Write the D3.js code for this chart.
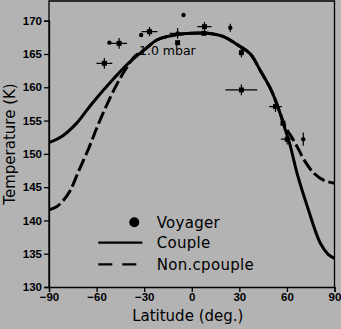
<!DOCTYPE html>
<html><head><meta charset="utf-8">
<script src="https://cdn.jsdelivr.net/npm/d3@7"></script>
<style>html,body{margin:0;padding:0;background:#b3b3b3;}svg{display:block;}</style>
</head><body>
<script>
// ---- data ----
const xTicks = [-90, -60, -30, 0, 30, 60, 90];
const yTicks = [130, 135, 140, 145, 150, 155, 160, 165, 170];

const coupleLat  = [-90, -82, -73, -66, -61, -50, -40, -29, -22, -11, 0, 10, 20, 30, 37, 43, 50, 55, 59, 62, 66.5, 73, 81, 86, 90];
const coupleTemp = [151.7, 152.6, 154.5, 156.6, 158.1, 161.1, 163.6, 165.8, 167.1, 167.85, 168.1, 168.1, 167.6, 166.2, 165.0, 162.6, 159.6, 156.6, 153.6, 151.3, 147.0, 142.0, 136.6, 134.9, 134.3];

const noncLat  = [-90, -85, -81, -76.6, -71.5, -65, -60, -55, -48, -42, -36, -29, -22, -11, 0, 10, 20, 30, 37, 43, 50, 55, 59, 62, 64.5, 67.5, 70.8, 77, 83.4, 90];
const noncTemp = [141.6, 142.1, 143.0, 144.5, 147.3, 150.8, 153.8, 156.6, 160.1, 162.6, 164.6, 165.8, 167.1, 167.85, 168.1, 168.1, 167.6, 166.2, 165.0, 162.6, 159.6, 156.6, 154.0, 152.9, 151.9, 150.6, 149.1, 147.1, 146.0, 145.6];

const obsLat   = [-55.1, -51.9, -45.8, -31.9, -26.6, -5.2, -8.9, -8.9, 8.0, 7.6, 24.3, 31.3, 31.3, 52.8, 57.5, 60.2, 70.3];
const obsTemp  = [163.6, 166.7, 166.6, 167.85, 168.35, 170.85, 168.1, 166.7, 169.1, 168.1, 168.95, 165.2, 159.6, 157.1, 154.6, 152.2, 152.2];
const obsLatErr  = [5, 0, 5, 0, 5, 0, 5, 0, 4.5, 0, 0, 0, 10, 4, 0, 4, 0];
const obsTempErr = [0.8, 0, 0.8, 0, 0.7, 0, 0.8, 0, 0.7, 0, 0.6, 0.7, 0.8, 0.8, 0, 0.8, 1.0];
const obsShape   = ["s", "d", "s", "d", "s", "d", "d", "s", "s", "s", "d", "s", "s", "s", "s", "s", "d"];

const legendLabels = ["Voyager", "Couple", "Non.cpouple"];

// ---- chart ----
const W = 341, H = 329;
const svg = d3.select("body").append("svg").attr("width", W).attr("height", H);
svg.append("rect").attr("width", W).attr("height", H).attr("fill", "#b3b3b3");

const x = d3.scaleLinear().domain([-90, 90]).range([49, 334.5]);
const y = d3.scaleLinear().domain([130, 170]).range([287, 20.7]);
const yTop = y.invert(1);

// frame
svg.append("path")
  .attr("d", `M${x(-90)},${y(130)}V${y(yTop)}H${x(90)}V${y(130)}`)
  .attr("fill", "none").attr("stroke", "#000").attr("stroke-width", 1.3);

const tickFont = "'Liberation Sans Narrow','Liberation Sans',sans-serif";
const textFont = "'DejaVu Sans',sans-serif";
const fmt = d => (d < 0 ? "\u2212" + Math.abs(d) : String(d));

const xAxis = svg.append("g").attr("transform", `translate(0,${y(130)})`)
  .call(d3.axisBottom(x).tickValues(xTicks).tickSize(5).tickPadding(1).tickFormat(fmt));
const yAxis = svg.append("g").attr("transform", `translate(${x(-90)},0)`)
  .call(d3.axisLeft(y).tickValues(yTicks).tickSize(5).tickPadding(2).tickFormat(fmt));
[xAxis, yAxis].forEach(g => {
  g.select(".domain").attr("stroke", "#000").attr("stroke-width", 1.3);
  g.selectAll(".tick line").attr("stroke", "#000").attr("stroke-width", 1.3);
  g.selectAll(".tick text").attr("fill", "#000").style("font-family", tickFont)
    .style("font-size", "11.5px").style("font-weight", "bold");
});

// curves
const line = d3.line().x(d => x(d[0])).y(d => y(d[1])).curve(d3.curveCatmullRom.alpha(0.5));
svg.append("clipPath").attr("id", "c").append("rect")
  .attr("x", x(-90)).attr("y", y(yTop)).attr("width", x(90) - x(-90)).attr("height", y(130) - y(yTop));
const plot = svg.append("g").attr("clip-path", "url(#c)");

plot.append("path").datum(noncLat.map((d, i) => [d, noncTemp[i]]))
  .attr("d", line).attr("fill", "none").attr("stroke", "#000").attr("stroke-width", 3)
  .attr("stroke-dasharray", "13,4");
plot.append("path").datum(coupleLat.map((d, i) => [d, coupleTemp[i]]))
  .attr("d", line).attr("fill", "none").attr("stroke", "#000").attr("stroke-width", 3);

// observations
const obs = obsLat.map((d, i) => ({lat: d, t: obsTemp[i], ex: obsLatErr[i], et: obsTempErr[i], s: obsShape[i]}));
const og = plot.append("g");
obs.forEach(o => {
  if (o.ex > 0) og.append("line").attr("x1", x(o.lat - o.ex)).attr("x2", x(o.lat + o.ex))
    .attr("y1", y(o.t)).attr("y2", y(o.t)).attr("stroke", "#000").attr("stroke-width", 1.2);
  if (o.et > 0) og.append("line").attr("x1", x(o.lat)).attr("x2", x(o.lat))
    .attr("y1", y(o.t - o.et)).attr("y2", y(o.t + o.et)).attr("stroke", "#000").attr("stroke-width", 1.2);
  if (o.s === "s") {
    og.append("rect").attr("x", x(o.lat) - 2.5).attr("y", y(o.t) - 2.5).attr("width", 5).attr("height", 5).attr("fill", "#000");
  } else {
    og.append("circle").attr("cx", x(o.lat)).attr("cy", y(o.t)).attr("r", 2.2).attr("fill", "#000");
  }
});

// annotation
svg.append("text").attr("x", 139).attr("y", 55).text("1.0 mbar")
  .style("font-family", textFont).style("font-size", "12.5px").attr("fill", "#000");

// legend
const lg = svg.append("g").style("font-family", textFont).style("font-size", "15px");
const ly = [222.3, 242.7, 264.3];
lg.append("circle").attr("cx", 134.3).attr("cy", ly[0]).attr("r", 5).attr("fill", "#000");
lg.append("line").attr("x1", 98.3).attr("x2", 142.3).attr("y1", ly[1]).attr("y2", ly[1]).attr("stroke", "#000").attr("stroke-width", 2.2);
lg.append("line").attr("x1", 98.3).attr("x2", 142.3).attr("y1", ly[2]).attr("y2", ly[2]).attr("stroke", "#000").attr("stroke-width", 2.2).attr("stroke-dasharray", "14,10");
legendLabels.forEach((t, i) => {
  lg.append("text").attr("x", 156.7).attr("y", ly[i] + 5.5).text(t).attr("fill", "#000").style("letter-spacing", "0.3px");
});

// axis titles
svg.append("text").attr("x", (x(-90) + x(90)) / 2 - 4).attr("y", 321).attr("text-anchor", "middle")
  .text("Latitude (deg.)").style("font-family", textFont).style("font-size", "15px").attr("fill", "#000");
svg.append("text").attr("transform", `translate(15,${(y(130) + y(yTop)) / 2}) rotate(-90)`).attr("text-anchor", "middle")
  .text("Temperature (K)").style("font-family", textFont).style("font-size", "15px").attr("fill", "#000");
</script>
</body></html>
